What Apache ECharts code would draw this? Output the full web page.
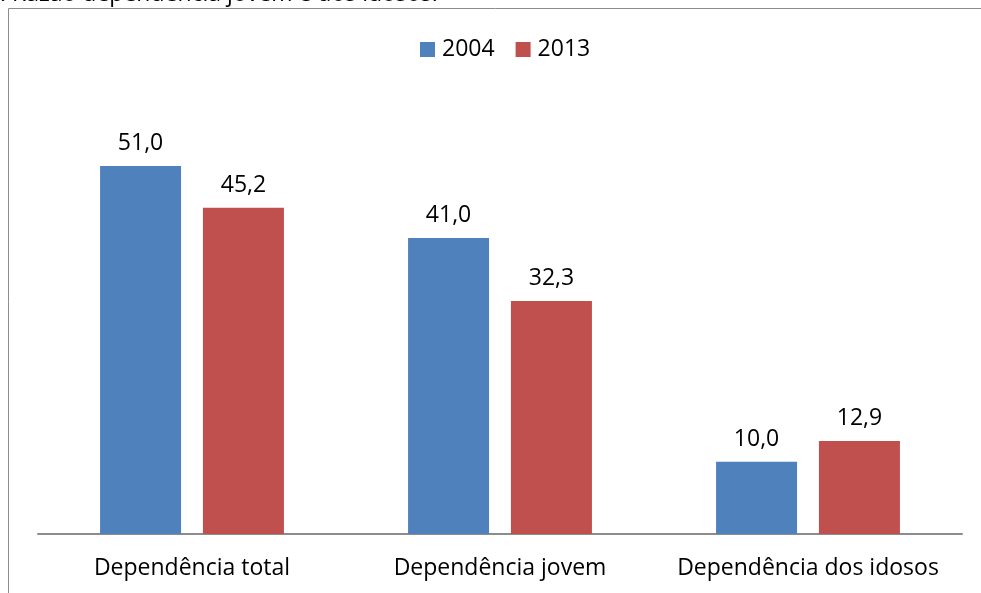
<!DOCTYPE html>
<html lang="pt">
<head>
    <meta charset="UTF-8">
    <title>Razão de dependência</title>
    <script src="https://cdn.jsdelivr.net/npm/echarts@6/dist/echarts.min.js"></script>
    <style>
        html, body {margin: 0; padding: 0; background: #fff;}
        #main {width: 981px; height: 593px;}
    </style>
</head>
<body>
<div id="main"></div>
<script type="text/javascript">
    var categorias = ['Dependência total', 'Dependência jovem', 'Dependência dos idosos'];
    var anos = ['2004', '2013'];
    var valores2004 = [51.0, 41.0, 10.0];
    var valores2013 = [45.2, 32.3, 12.9];
    var cores = ['#4f81bd', '#c0504d'];
    var fonte = 'Open Sans, Noto Sans, sans-serif';

    function rotulo(p) {
        return p.value.toFixed(1).replace('.', ',');
    }

    function serie(nome, dados, cor) {
        return {
            name: nome,
            type: 'bar',
            data: dados,
            barWidth: 81,
            barGap: '27%',
            itemStyle: {color: cor},
            label: {
                show: true,
                position: 'top',
                distance: 11,
                formatter: rotulo,
                color: '#000',
                fontSize: 23,
                fontFamily: fonte
            }
        };
    }

    var myChart = echarts.init(document.getElementById('main'));
    myChart.setOption({
        animation: false,
        graphic: [
            {
                type: 'rect',
                shape: {x: 8.5, y: 8.5, width: 1100, height: 700},
                style: {fill: 'none', stroke: '#8c8c8c', lineWidth: 1},
                silent: true
            },
            {
                type: 'text',
                left: 0,
                top: -17,
                style: {text: '. Razão dependência jovem e dos idosos.', fontSize: 23, fontFamily: fonte, fill: '#000'}
            }
        ],
        legend: {
            top: 33,
            left: 415,
            itemWidth: 15,
            itemHeight: 15,
            itemGap: 21,
            icon: 'rect',
            textStyle: {fontSize: 23, fontFamily: fonte, color: '#000', padding: [0, 0, 0, 2]},
            data: anos
        },
        grid: {left: 38, right: 19, top: 101, bottom: 59, containLabel: false},
        xAxis: {
            type: 'category',
            data: categorias,
            axisTick: {show: false},
            axisLine: {lineStyle: {color: '#8c8c8c', width: 2}},
            axisLabel: {color: '#000', fontSize: 23, fontFamily: fonte, margin: 23, interval: 0}
        },
        yAxis: {
            type: 'value',
            min: 0,
            max: 60,
            show: false,
            splitLine: {show: false}
        },
        series: [
            serie(anos[0], valores2004, cores[0]),
            serie(anos[1], valores2013, cores[1])
        ]
    });
</script>
</body>
</html>
